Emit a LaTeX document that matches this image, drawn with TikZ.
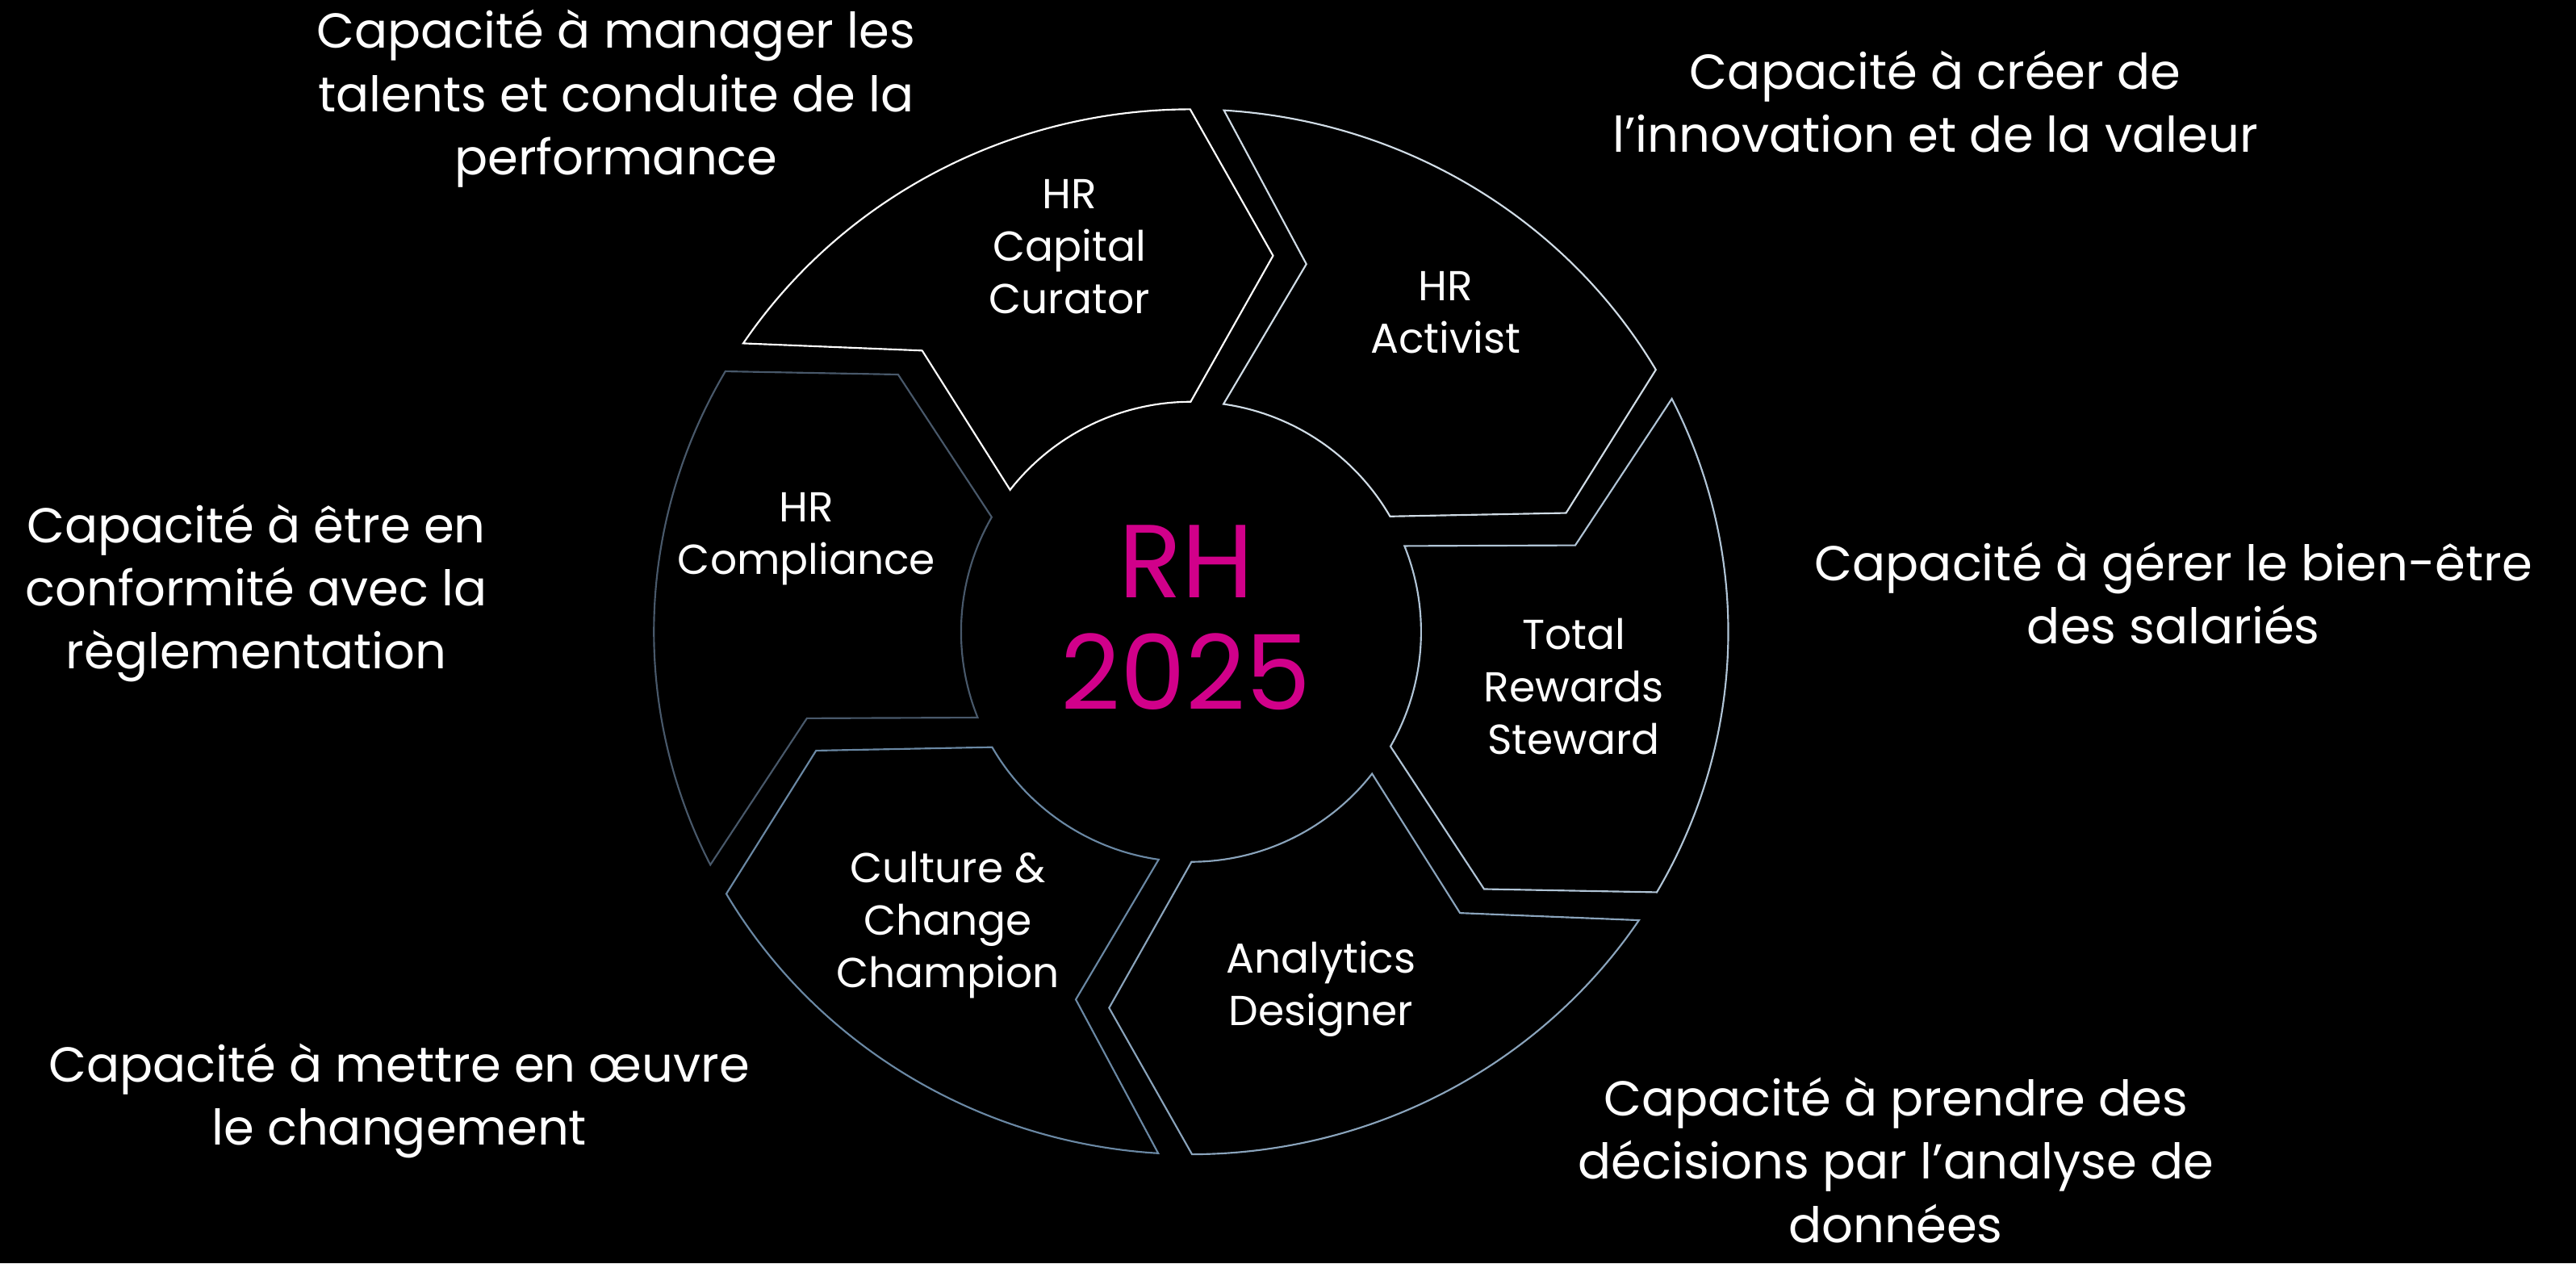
\documentclass[tikz,border=0pt]{standalone}
\usepackage{fontspec}
\setmainfont{Poppins}
\usepackage{tikz}
\usetikzlibrary{positioning}
\definecolor{rhpink}{HTML}{D1008A}
\definecolor{segCurator}{HTML}{FFFFFF}
\definecolor{segActivist}{HTML}{D0DCE6}
\definecolor{segRewards}{HTML}{B0C4D6}
\definecolor{segAnalytics}{HTML}{8AA4BC}
\definecolor{segCulture}{HTML}{6A88A4}
\definecolor{segCompliance}{HTML}{48586A}
\newcommand{\rhSegment}[2]{%
  \draw[seg,#1] (#2+1.8:327 and 318)
    arc[start angle=#2+1.8, end angle=#2+58.2, x radius=6.54cm, y radius=6.36cm]
    -- (#2+44.7:240 and 234) -- (#2+53.6:140)
    arc[start angle=#2+53.6, end angle=#2+1.8, radius=2.8cm]
    -- (#2-10.3:240 and 234) -- cycle;}

\begin{document}
\begin{tikzpicture}[x=0.02cm,y=0.02cm,
		seg/.style={line width=0.6pt},
		role/.style={text=white,align=center,font=\fontsize{14.5}{18.2}\selectfont},
		skill/.style={text=white,align=center,font=\fontsize{17}{21.9}\selectfont}]
		\fill[black] (0,0) rectangle (1568,769);
		\useasboundingbox (0,0) rectangle (1568,769);
		\begin{scope}[shift={(725,384.5)}]
			\rhSegment{segCurator}{88.3}
			\rhSegment{segActivist}{28.3}
			\rhSegment{segRewards}{-31.7}
			\rhSegment{segAnalytics}{-91.7}
			\rhSegment{segCulture}{-151.7}
			\rhSegment{segCompliance}{148.3}
		\end{scope}
		%\draw[seg,white] (725,384.5) circle (2.8cm);
		\node[text=rhpink,align=center,font=\fontsize{36}{38.7}\selectfont] (RH) at (722,393) {RH\\2025};
		\node[role] (Curator) at (651,619) {HR\\Capital\\Curator};
		\node[role] (Activist) at (880,579) {HR\\Activist};
		\node[role] (Rewards) at (958,351) {Total\\Rewards\\Steward};
		\node[role] (Analytics) at (804,167) {Analytics\\Designer};
		\node[role] (Culture) at (577,206) {Culture \&\\Change\\Champion};
		\node[role] (Compliance) at (491,441) {HR\\Compliance};
		\node[skill] (capTalents) at (375,709) {Capacité à manager les\\talents et conduite de la\\performance};
		\node[skill] (capValeur) at (1178,707) {Capacité à créer de\\l’innovation et de la valeur};
		\node[skill] (capBienEtre) at (1323,408) {Capacité à gérer le bien-être\\des salariés};
		\node[skill,inner sep=0pt] (capDonnees) at (1154,63) {Capacité à prendre des\\décisions par l’analyse de\\données};
		\node[skill] (capChangement) at (243,99) {Capacité à mettre en œuvre\\le changement};
		\node[skill] (capConformite) at (156,408) {Capacité à être en\\conformité avec la\\règlementation};
	\end{tikzpicture}
\end{document}
